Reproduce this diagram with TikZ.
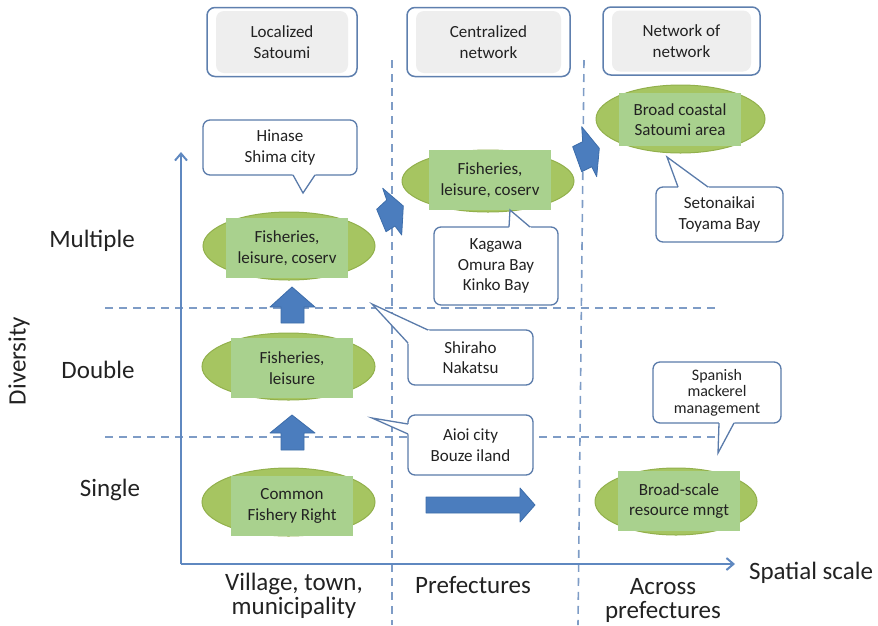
\documentclass[tikz,border=0pt]{standalone}
\usepackage{fontspec}
\setmainfont{Carlito}
\usetikzlibrary{arrows.meta,shapes.geometric,calc}
\definecolor{axisblue}{HTML}{5F88C0}
\definecolor{dashblue}{HTML}{7E9CC6}
\definecolor{hdrblue}{HTML}{5E7FAE}
\definecolor{hdrgray}{HTML}{EEEEEE}
\definecolor{ellgreen}{HTML}{A6C561}
\definecolor{elledge}{HTML}{92B04C}
\definecolor{rectgreen}{HTML}{A9D18E}
\definecolor{blockblue}{HTML}{4B7DBE}
\definecolor{blockedge}{HTML}{3D6DAA}
\definecolor{callblue}{HTML}{5A7BAA}
\definecolor{txt}{HTML}{222222}
\newcommand{\mkptr}[3]{%
  \fill[white] ($(#3)!1.12!(#1)$) -- (#3) -- ($(#3)!1.12!(#2)$) -- cycle;
  \draw[cline] (#1) -- (#3) -- (#2);}
\begin{document}
\begin{tikzpicture}[x=1pt,y=-1pt,
  every node/.style={text=txt},
  small/.style={font=\fontsize{17}{20.5}\selectfont, align=center},
  big/.style={font=\fontsize{25}{24}\selectfont, align=center},
  hdr/.style={small, draw=hdrblue, line width=1.5pt, rounded corners=8pt, fill=white,
    minimum width=150pt, minimum height=68pt, inner sep=0pt,
    path picture={\fill[hdrgray] ([shift={(9pt,-3.5pt)}]path picture bounding box.north west)
      rectangle ([shift={(-9pt,3.5pt)}]path picture bounding box.south east);}},
  ell/.style={ellipse, fill=ellgreen, draw=elledge, line width=1pt, inner sep=0pt},
  gbox/.style={small, fill=rectgreen, minimum width=122pt, minimum height=60pt, inner sep=0pt},
  cbox/.style={small, draw=callblue, line width=1.3pt, fill=white, rounded corners=7pt, inner sep=0pt},
  cline/.style={draw=callblue, line width=1.3pt, line join=miter},
  dline/.style={draw=dashblue, line width=1.6pt, dash pattern=on 8pt off 6pt},
  axis/.style={draw=axisblue, line width=2pt, -{Straight Barb[length=7pt,width=12pt]}},
  block/.style={fill=blockblue, draw=blockedge, line width=0.8pt, line join=round}
]
\useasboundingbox (0,0) rectangle (878,625);

% dashed grid
\draw[dline] (105,308) -- (715,308);
\draw[dline] (105,437) -- (717,437);
\draw[dline] (392,60) -- (392,625);
\draw[dline] (584,60) -- (578,625);

% axes
\coordinate (o) at (181,564);
\coordinate (ytip) at (181,152);
\coordinate (xtip) at (735,564);
\draw[axis] (o) -- (ytip);
\draw[axis] (o) -- (xtip);

% headers
\node[hdr, minimum width=150pt, minimum height=69pt] (h1) at (282,42) {Localized\\Satoumi};
\node[hdr, minimum width=163pt, minimum height=69pt] (h2) at (488.5,42) {Centralized\\network};
\node[hdr, minimum width=157pt, minimum height=68pt] (h3) at (681.5,41) {Network of\\network};

% ellipses
\node[ell, minimum width=172pt, minimum height=68pt] (e1) at (289,246) {};
\node[gbox] (g1) at (287,248) {Fisheries,\\leisure, coserv};
\node[ell, minimum width=173pt, minimum height=67pt] (e2) at (288.5,366.5) {};
\node[gbox] (g2) at (292,368) {Fisheries,\\leisure};
\node[ell, minimum width=173pt, minimum height=68pt] (e3) at (288.5,502) {};
\node[gbox] (g3) at (292,506) {Common\\Fishery Right};
\node[ell, minimum width=172pt, minimum height=62pt] (e4) at (488,181) {};
\node[gbox] (g4) at (490,180) {Fisheries,\\leisure, coserv};
\node[ell, minimum width=169pt, minimum height=68pt] (e5) at (680.5,119) {};
\node[gbox, minimum height=53pt] (g5) at (680,119.5) {Broad coastal\\Satoumi area};
\node[ell, minimum width=162pt, minimum height=67pt] (e6) at (676,501.5) {};
\node[gbox] (g6) at (679,501) {Broad-scale\\resource mngt};

% callouts
\node[cbox, minimum width=154pt, minimum height=55pt] (c1) at (280,147.5) {Hinase\\Shima city};
\coordinate (p1a) at (293,175); \coordinate (p1b) at (315,175); \coordinate (t1) at (303,193);
\mkptr{p1a}{p1b}{t1}

\node[cbox, minimum width=124pt, minimum height=78pt] (c2) at (496,266) {Kagawa\\Omura Bay\\Kinko Bay};
\coordinate (p2a) at (509,227); \coordinate (p2b) at (530,227); \coordinate (t2) at (510,210);
\mkptr{p2a}{p2b}{t2}

\node[cbox, minimum width=125pt, minimum height=55pt] (c3) at (470.5,357.5) {Shiraho\\Nakatsu};
\coordinate (p3a) at (408,343); \coordinate (p3b) at (428,330); \coordinate (t3) at (372,304);
\mkptr{p3a}{p3b}{t3}

\node[cbox, minimum width=125pt, minimum height=60pt] (c4) at (470.5,445) {Aioi city\\Bouze iland};
\coordinate (p4a) at (408,424); \coordinate (p4b) at (408,434); \coordinate (t4) at (372,418);
\mkptr{p4a}{p4b}{t4}

\node[cbox, minimum width=127pt, minimum height=55pt] (c5) at (719.5,214.5) {Setonaikai\\Toyama Bay};
\coordinate (p5a) at (678,187); \coordinate (p5b) at (708,187); \coordinate (t5) at (667,157);
\mkptr{p5a}{p5b}{t5}

\node[cbox, minimum width=128pt, minimum height=61pt, font=\fontsize{16}{16.5}\selectfont] (c6) at (717,392.5) {Spanish\\mackerel\\management};
\coordinate (p6a) at (719,423); \coordinate (p6b) at (734,423); \coordinate (t6) at (718,453);
\mkptr{p6a}{p6b}{t6}

% block arrows
\draw[block] (292,287) -- (315,307) -- (304,307) -- (304,323) -- (281,323) -- (281,307) -- (270,307) -- cycle;
\draw[block] (292,415) -- (315,433) -- (304,433) -- (304,450) -- (281,450) -- (281,433) -- (270,433) -- cycle;
\draw[block] (426,497) -- (520,497) -- (520,488) -- (535,505) -- (520,522) -- (520,513) -- (426,513) -- cycle;
\draw[block] (382.7,188.3) -- (403.3,206) -- (401.7,235) -- (395,226) -- (386,231.7) -- (376.7,209.3) -- (386.7,200) -- cycle;
\draw[block] (581.7,126.7) -- (599.3,148.3) -- (596.7,176.7) -- (591.7,166.7) -- (581.7,171.7) -- (572.7,146.7) -- (582.7,141.7) -- cycle;

% axis labels
\node[big] (lm) at (92,241) {Multiple};
\node[big] (ld) at (98,370) {Double};
\node[big] (ls) at (110,490) {Single};
\node[big, rotate=90] (ldiv) at (19,361) {Diversity};
\node[big] (lv) at (294,596) {Village, town,\\municipality};
\node[big] (lp) at (473,585) {Prefectures};
\node[big] (la) at (663,600) {Across\\prefectures};
\node[big] (lsp) at (811,573) {Spatial scale};
\end{tikzpicture}
\end{document}
